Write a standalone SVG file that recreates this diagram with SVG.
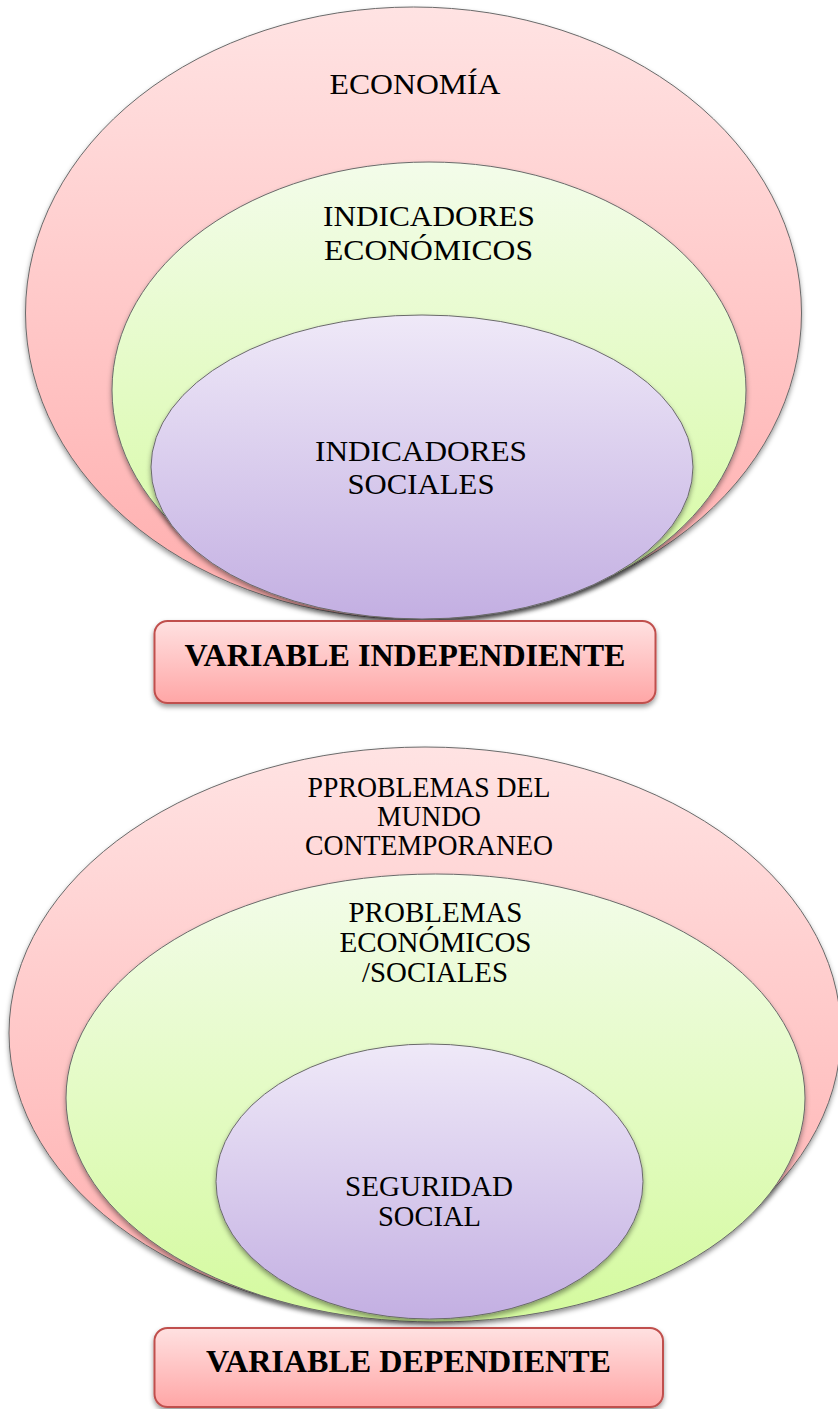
<svg xmlns="http://www.w3.org/2000/svg" width="838" height="1409" viewBox="0 0 838 1409">
<defs>
<linearGradient id="gPink" x1="0" y1="0" x2="0" y2="1">
<stop offset="0" stop-color="#ffe3e3"/>
<stop offset="1" stop-color="#ffadad"/>
</linearGradient>
<linearGradient id="gGreen" x1="0" y1="0" x2="0" y2="1">
<stop offset="0" stop-color="#f3fcea"/>
<stop offset="1" stop-color="#d4fa9e"/>
</linearGradient>
<linearGradient id="gPurple" x1="0" y1="0" x2="0" y2="1">
<stop offset="0" stop-color="#efe9f8"/>
<stop offset="1" stop-color="#c3afe2"/>
</linearGradient>
<linearGradient id="gBox" x1="0" y1="0" x2="0" y2="1">
<stop offset="0" stop-color="#ffe1e1"/>
<stop offset="1" stop-color="#ffa6a6"/>
</linearGradient>
<filter id="shadow" x="-10%" y="-10%" width="120%" height="125%">
<feDropShadow dx="0" dy="3" stdDeviation="2.5" flood-color="#000" flood-opacity="0.4"/>
</filter>
</defs>
<style>
.ell { stroke: #6a6a6a; stroke-width: 1; filter: url(#shadow); }
.pink { fill: url(#gPink); }
.green { fill: url(#gGreen); }
.purple { fill: url(#gPurple); }
.box { fill: url(#gBox); stroke: #c0504d; stroke-width: 2; filter: url(#shadow); }
.lbl { font-family: "Liberation Serif", "Times New Roman", serif; font-size: 28.5px; fill: #000; text-anchor: middle; }
.title { font-family: "Liberation Serif", "Times New Roman", serif; font-size: 32px; font-weight: bold; fill: #000; text-anchor: middle; }
</style>
<rect width="838" height="1409" fill="#ffffff"/>

<!-- Top diagram -->
<g id="economia">
<ellipse class="ell pink" cx="413.5" cy="313" rx="388" ry="306"/>
<text class="lbl" x="415" y="94" textLength="171" lengthAdjust="spacingAndGlyphs">ECONOMÍA</text>
</g>
<g id="indicadores-economicos">
<ellipse class="ell green" cx="429" cy="390" rx="317" ry="228"/>
<text class="lbl" x="429" y="226" textLength="212" lengthAdjust="spacingAndGlyphs">INDICADORES</text>
<text class="lbl" x="428.5" y="260" textLength="209" lengthAdjust="spacingAndGlyphs">ECONÓMICOS</text>
</g>
<g id="indicadores-sociales">
<ellipse class="ell purple" cx="422" cy="467" rx="271" ry="152"/>
<text class="lbl" x="421" y="461" textLength="212" lengthAdjust="spacingAndGlyphs">INDICADORES</text>
<text class="lbl" x="421" y="494" textLength="147" lengthAdjust="spacingAndGlyphs">SOCIALES</text>
</g>
<g id="variable-independiente">
<rect class="box" x="154.5" y="621" width="501" height="82" rx="13" ry="13"/>
<text class="title" x="405" y="666" textLength="441" lengthAdjust="spacingAndGlyphs">VARIABLE INDEPENDIENTE</text>
</g>

<!-- Bottom diagram -->
<g id="problemas-mundo">
<ellipse class="ell pink" cx="425" cy="1033" rx="416" ry="286"/>
<text class="lbl" x="429" y="797" textLength="243" lengthAdjust="spacingAndGlyphs">PPROBLEMAS DEL</text>
<text class="lbl" x="429" y="826" textLength="104" lengthAdjust="spacingAndGlyphs">MUNDO</text>
<text class="lbl" x="429" y="855" textLength="248" lengthAdjust="spacingAndGlyphs">CONTEMPORANEO</text>
</g>
<g id="problemas-economicos">
<ellipse class="ell green" cx="435.5" cy="1098" rx="369.5" ry="224"/>
<text class="lbl" x="435.5" y="922" textLength="174" lengthAdjust="spacingAndGlyphs">PROBLEMAS</text>
<text class="lbl" x="435.5" y="952" textLength="192" lengthAdjust="spacingAndGlyphs">ECONÓMICOS</text>
<text class="lbl" x="435" y="982" textLength="146" lengthAdjust="spacingAndGlyphs">/SOCIALES</text>
</g>
<g id="seguridad-social">
<ellipse class="ell purple" cx="429.5" cy="1181.5" rx="213.5" ry="137.5"/>
<text class="lbl" x="429" y="1196" textLength="168" lengthAdjust="spacingAndGlyphs">SEGURIDAD</text>
<text class="lbl" x="429.5" y="1226" textLength="103" lengthAdjust="spacingAndGlyphs">SOCIAL</text>
</g>
<g id="variable-dependiente">
<rect class="box" x="154.5" y="1328" width="508.5" height="79" rx="13" ry="13"/>
<text class="title" x="408.5" y="1372" textLength="405" lengthAdjust="spacingAndGlyphs">VARIABLE DEPENDIENTE</text>
</g>
</svg>
